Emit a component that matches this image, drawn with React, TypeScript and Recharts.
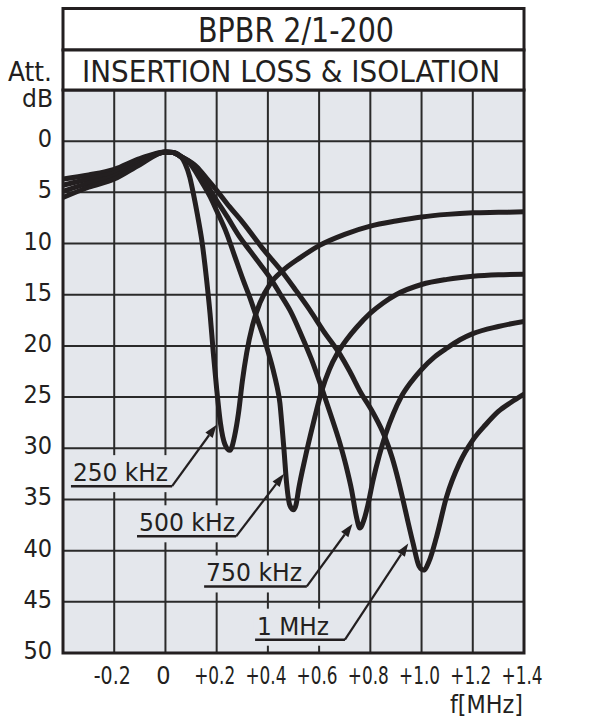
import React from "react";
import {
  LineChart,
  Line,
  XAxis,
  YAxis,
  CartesianGrid,
  ReferenceLine,
  ReferenceArea,
} from "recharts";

const FONT = '"Liberation Sans Narrow", "DejaVu Sans Condensed", "Open Sans", sans-serif';
const INK = "#231f20";
const PAPER = "#e4e7ec";

// frequency [MHz], attenuation [dB]
const CURVE_250K = [
  [-0.4, 3.7], [-0.3, 3.3], [-0.2, 2.75], [-0.1, 1.7], [0, 1.05], [0.03, 1.1],
  [0.06, 1.5], [0.077, 2.2], [0.095, 3.5], [0.109, 5.1], [0.125, 7.2],
  [0.142, 9.7], [0.161, 13.6], [0.174, 16.8], [0.187, 20.7], [0.2, 24.2],
  [0.215, 27.6], [0.232, 29.6], [0.252, 30.2], [0.27, 28.8], [0.285, 26.6],
  [0.3, 23.5], [0.317, 20.7], [0.34, 18.0], [0.369, 15.8], [0.41, 13.9],
  [0.46, 12.6], [0.525, 11.4], [0.6, 10.2], [0.7, 9.1], [0.8, 8.3], [0.9, 7.8],
  [1.0, 7.4], [1.1, 7.15], [1.2, 7.0], [1.3, 6.95], [1.4, 6.9],
];

const CURVE_500K = [
  [-0.4, 4.3], [-0.3, 3.7], [-0.2, 3.1], [-0.1, 1.9], [0, 1.05], [0.03, 1.1],
  [0.06, 1.5], [0.096, 2.2], [0.135, 3.7], [0.174, 5.4], [0.2, 6.8],
  [0.239, 9.0], [0.27, 11.2], [0.304, 13.6], [0.33, 15.3], [0.356, 17.2],
  [0.389, 19.6], [0.42, 22.3], [0.435, 23.9], [0.447, 25.6], [0.455, 27.8],
  [0.463, 30.2], [0.473, 33.4], [0.486, 35.6], [0.5, 36.0], [0.51, 35.5],
  [0.52, 34.0], [0.545, 31.0], [0.577, 27.6], [0.61, 24.4], [0.64, 22.3],
  [0.672, 20.7], [0.71, 19.3], [0.746, 18.2], [0.8, 16.8], [0.85, 15.8],
  [0.9, 15.0], [1.0, 14.0], [1.1, 13.5], [1.2, 13.2], [1.3, 13.05], [1.4, 13.0],
];

const CURVE_750K = [
  [-0.4, 4.9], [-0.3, 4.1], [-0.2, 3.4], [-0.1, 2.1], [0, 1.05], [0.03, 1.1],
  [0.06, 1.5], [0.109, 2.3], [0.15, 3.8], [0.2, 5.8], [0.239, 7.3],
  [0.291, 9.4], [0.33, 10.7], [0.369, 12.0], [0.41, 13.4], [0.447, 14.9],
  [0.49, 16.7], [0.53, 18.9], [0.57, 21.3], [0.61, 24.1], [0.645, 26.7],
  [0.681, 29.5], [0.705, 31.7], [0.727, 34.1], [0.745, 36.6], [0.759, 37.8],
  [0.775, 37.0], [0.79, 35.6], [0.81, 33.2], [0.835, 30.7], [0.86, 28.6],
  [0.89, 26.6], [0.92, 25.0], [0.96, 23.5], [1.0, 22.3], [1.05, 21.1],
  [1.1, 20.2], [1.15, 19.4], [1.2, 18.8], [1.3, 18.1], [1.4, 17.6],
];

const CURVE_1M = [
  [-0.4, 5.5], [-0.3, 4.5], [-0.2, 3.7], [-0.1, 2.3], [0, 1.05], [0.03, 1.1],
  [0.06, 1.5], [0.122, 2.5], [0.16, 3.6], [0.2, 4.8], [0.25, 6.4],
  [0.304, 8.0], [0.38, 10.5], [0.46, 12.9], [0.51, 14.6], [0.564, 16.5],
  [0.616, 18.5], [0.681, 20.8], [0.72, 22.5], [0.759, 24.4], [0.81, 26.5],
  [0.857, 28.9], [0.885, 30.9], [0.91, 33.2], [0.928, 35.1], [0.948, 37.3],
  [0.967, 39.3], [0.99, 41.5], [1.008, 41.9], [1.03, 41.0], [1.058, 38.7],
  [1.097, 34.8], [1.149, 31.4], [1.2, 29.2], [1.25, 27.7], [1.3, 26.4],
  [1.35, 25.5], [1.4, 24.7],
];

const F_TICKS = [-0.4, -0.2, 0, 0.2, 0.4, 0.6, 0.8, 1.0, 1.2, 1.4];
const ATT_TICKS = [-5, 0, 5, 10, 15, 20, 25, 30, 35, 40, 45, 50];

// callouts: underline from `from` to the knee, leader from the knee to `tip`
const CALLOUTS = [
  { text: "250 kHz", width: 95, from: -0.369, knee: 0.026, att: 33.7, tip: [0.2, 27.7] },
  { text: "500 kHz", width: 96, from: -0.111, knee: 0.276, att: 38.6, tip: [0.463, 32.5] },
  { text: "750 kHz", width: 96, from: 0.151, knee: 0.552, att: 43.5, tip: [0.73, 37.4] },
  { text: "1 MHz", width: 72, from: 0.35, knee: 0.701, att: 48.7, tip: [0.948, 39.3] },
];

const SERIES = [CURVE_250K, CURVE_500K, CURVE_750K, CURVE_1M];

const toPoints = (rows: number[][]) => rows.map(([f, att]) => ({ f, att }));

function fmtFreq(v: number) {
  if (v === 0) return "0";
  return (v > 0 ? "+" : "") + v.toFixed(1);
}

function FreqTick({ x, y, payload }: any) {
  if (payload.value <= -0.39) return null;
  const label = fmtFreq(payload.value);
  const fit =
    label.length > 1
      ? { textLength: label.startsWith("+") ? 41 : 37, lengthAdjust: "spacingAndGlyphs" }
      : {};
  return (
    <text x={x - 2} y={y + 31} textAnchor="middle" fontFamily={FONT} fontSize={25} fill={INK} {...fit}>
      {label}
    </text>
  );
}

function AttTick({ x, y, payload }: any) {
  if (payload.value < 0) return null;
  return (
    <text x={x - 11} y={y + 6} textAnchor="end" fontFamily={FONT} fontSize={25} fill={INK}>
      {payload.value}
    </text>
  );
}

function Underline({ x1, y1, x2, text, width }: any) {
  return (
    <g>
      <rect x={x1 - 2} y={y1 - 31} width={x2 - x1 + 4} height={37} fill={PAPER} />
      <text
        x={x1 + 2}
        y={y1 - 5}
        fontFamily={FONT}
        fontSize={25}
        fill={INK}
        textLength={width}
        lengthAdjust="spacingAndGlyphs"
      >
        {text}
      </text>
      <line x1={x1} y1={y1} x2={x2} y2={y1} stroke={INK} strokeWidth={2.5} />
    </g>
  );
}

function Leader({ x1, y1, x2, y2 }: any) {
  const dx = x2 - x1;
  const dy = y2 - y1;
  const len = Math.hypot(dx, dy) || 1;
  const ux = dx / len;
  const uy = dy / len;
  const head = 13;
  const half = 4.5;
  const bx = x2 - ux * head;
  const by = y2 - uy * head;
  return (
    <g>
      <line x1={x1} y1={y1} x2={bx} y2={by} stroke={INK} strokeWidth={2.2} />
      <polygon
        points={`${x2},${y2} ${bx - uy * half},${by + ux * half} ${bx + uy * half},${by - ux * half}`}
        fill={INK}
      />
    </g>
  );
}

export default function App() {
  return (
    <div style={{ position: "absolute", left: 0, top: 0, width: 600, height: 721, background: "#fff" }}>
      <LineChart width={600} height={721} margin={{ top: 90, right: 76, bottom: 0, left: 0 }}>
        <CartesianGrid stroke="#2a2a2a" strokeWidth={2} fill={PAPER} fillOpacity={1} />
        <XAxis
          type="number"
          dataKey="f"
          domain={[-0.4, 1.4]}
          ticks={F_TICKS}
          allowDataOverflow
          height={68}
          axisLine={false}
          tickLine={false}
          tickSize={0}
          tickMargin={0}
          interval={0}
          tick={<FreqTick />}
        />
        <YAxis
          type="number"
          domain={[-5, 50]}
          ticks={ATT_TICKS}
          reversed
          allowDataOverflow
          width={63}
          axisLine={false}
          tickLine={false}
          tickSize={0}
          tickMargin={0}
          interval={0}
          tick={<AttTick />}
        />
        {SERIES.map((rows, i) => (
          <Line
            key={i}
            data={toPoints(rows)}
            dataKey="att"
            type="monotone"
            stroke={INK}
            strokeWidth={5}
            strokeLinejoin="round"
            dot={false}
            activeDot={false}
            isAnimationActive={false}
          />
        ))}
        {CALLOUTS.map((c) => (
          <ReferenceLine
            key={c.text + "-u"}
            segment={[{ x: c.from, y: c.att }, { x: c.knee, y: c.att }]}
            ifOverflow="visible"
            shape={(p: any) => <Underline {...p} text={c.text} width={c.width} />}
          />
        ))}
        {CALLOUTS.map((c) => (
          <ReferenceLine
            key={c.text + "-l"}
            segment={[{ x: c.knee, y: c.att }, { x: c.tip[0], y: c.tip[1] }]}
            ifOverflow="visible"
            shape={(p: any) => <Leader {...p} />}
          />
        ))}
        <ReferenceArea
          x1={-0.4}
          x2={1.4}
          y1={-5}
          y2={50}
          ifOverflow="visible"
          fill="none"
          stroke={INK}
          strokeWidth={3}
        />
      </LineChart>
      <svg
        width={600}
        height={721}
        style={{ position: "absolute", left: 0, top: 0, pointerEvents: "none" }}
      >
        <rect x={63} y={8.5} width={461} height={41.5} fill="#fff" stroke={INK} strokeWidth={3} />
        <rect x={63} y={50} width={461} height={40} fill="#fff" stroke={INK} strokeWidth={3} />
        <text x={296} y={42} textAnchor="middle" fontFamily={FONT} fontSize={33} fill={INK}
          textLength={196} lengthAdjust="spacingAndGlyphs">
          BPBR 2/1-200
        </text>
        <text x={291} y={82} textAnchor="middle" fontFamily={FONT} fontSize={30} fill={INK}
          textLength={418} lengthAdjust="spacingAndGlyphs">
          INSERTION LOSS &amp; ISOLATION
        </text>
        <text x={52} y={81} textAnchor="end" fontFamily={FONT} fontSize={26} fill={INK}
          textLength={44} lengthAdjust="spacingAndGlyphs">
          Att.
        </text>
        <text x={53} y={107} textAnchor="end" fontFamily={FONT} fontSize={25} fill={INK}
          textLength={31} lengthAdjust="spacingAndGlyphs">
          dB
        </text>
        <text x={523} y={713} textAnchor="end" fontFamily={FONT} fontSize={25} fill={INK}
          textLength={73} lengthAdjust="spacingAndGlyphs">
          f[MHz]
        </text>
      </svg>
    </div>
  );
}
